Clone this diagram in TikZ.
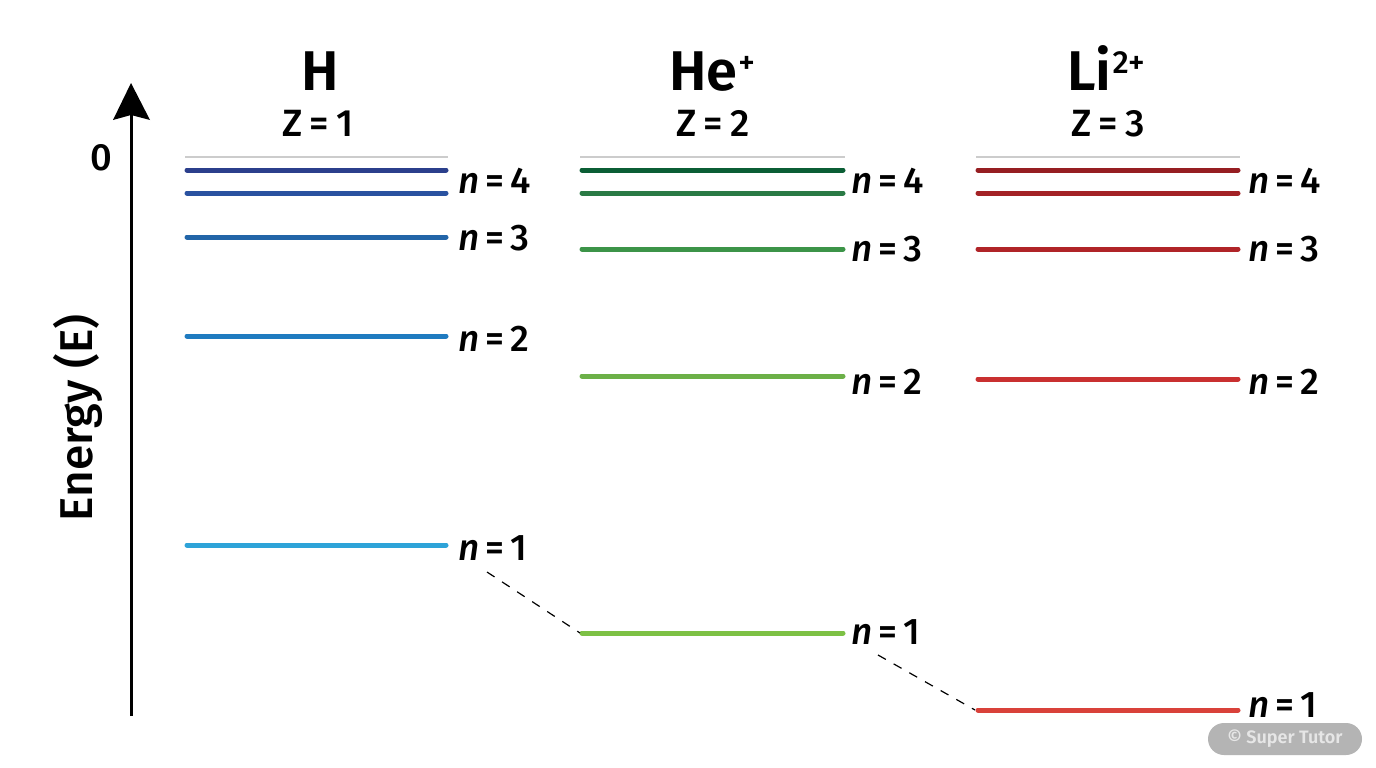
\documentclass[tikz,border=0pt]{standalone}
\usepackage{fontspec}
\setmainfont{Fira Sans Medium}[BoldFont={Fira Sans SemiBold}]
\usetikzlibrary{arrows.meta}
\definecolor{hA}{HTML}{2B3F8C}
\definecolor{hB}{HTML}{2A52A0}
\definecolor{hC}{HTML}{2265A8}
\definecolor{hD}{HTML}{1F7BC0}
\definecolor{hE}{HTML}{2EA3D8}
\definecolor{gA}{HTML}{0B5E35}
\definecolor{gB}{HTML}{2A7A45}
\definecolor{gC}{HTML}{3C9448}
\definecolor{gD}{HTML}{6CB048}
\definecolor{gE}{HTML}{7DC145}
\definecolor{rA}{HTML}{961E22}
\definecolor{rB}{HTML}{A32226}
\definecolor{rC}{HTML}{B02428}
\definecolor{rD}{HTML}{C93030}
\definecolor{rE}{HTML}{D9413A}
\definecolor{zeroline}{HTML}{CCCCCC}
\definecolor{wmfill}{HTML}{B4B4B4}
\definecolor{wmtext}{HTML}{E6E6E6}
\tikzset{
  level/.style={line width=5pt, line cap=round},
  zerolvl/.style={draw=zeroline, line width=1.5pt},
  nlabel/.style={anchor=west, inner sep=0pt, font=\fontsize{37}{42}\selectfont},
  title/.style={inner sep=0pt, font=\bfseries\fontsize{56}{60}\selectfont},
  zlabel/.style={inner sep=0pt, font=\fontsize{38}{42}\selectfont},
  link/.style={line width=1.2pt, dash pattern=on 9pt off 9pt}
}
\newcommand{\nlev}[1]{\textit{n}\hspace{6pt}=\hspace{6pt}#1}
\newcommand{\zlev}[1]{Z\hspace{7pt}=\hspace{7pt}#1}
\newcommand{\chg}[1]{\hspace{1pt}\raisebox{17pt}{\fontsize{32}{34}\selectfont\mdseries #1}}
\begin{document}
\begin{tikzpicture}[x=1pt,y=-1pt]
\useasboundingbox[fill=white] (0,0) rectangle (1376,768);
% axis
\draw[line width=3pt] (131,716) -- (131,112);
\fill (113,120) -- (131,83) -- (150,120) -- (131,115) -- cycle;
\node[inner sep=0pt, font=\fontsize{38}{42}\selectfont] (zero) at (101,158) {0};
\node[inner sep=0pt, rotate=90, font=\fontsize{46}{50}\selectfont] (energy) at (78,418) {Energy (E)};
% titles
\node[title, anchor=base] (tH) at (320,90) {H};
\node[title, anchor=base] (tHe) at (712,90) {He\chg{+}};
\node[title, anchor=base] (tLi) at (1106,90) {Li\chg{2+}};
\node[zlabel, anchor=base] (zH) at (318,136) {\zlev{1}};
\node[zlabel, anchor=base] (zHe) at (713,136) {\zlev{2}};
\node[zlabel, anchor=base] (zLi) at (1108,136) {\zlev{3}};
% zero lines
\draw[zerolvl] (185,157) -- (448,157);
\draw[zerolvl] (580,157) -- (845,157);
\draw[zerolvl] (976,157) -- (1240,157);
% H levels
\draw[level, hA] (187,170) -- (446,170);
\draw[level, hB] (187,193) -- (446,193);
\draw[level, hC] (187,237) -- (446,237);
\draw[level, hD] (187,336) -- (446,336);
\draw[level, hE] (187,545) -- (446,545);
% He levels
\draw[level, gA] (582,170) -- (843,170);
\draw[level, gB] (582,193) -- (843,193);
\draw[level, gC] (582,249) -- (843,249);
\draw[level, gD] (582,376) -- (843,376);
\draw[level, gE] (582,633) -- (843,633);
% Li levels
\draw[level, rA] (978,170) -- (1238,170);
\draw[level, rB] (978,193) -- (1238,193);
\draw[level, rC] (978,249) -- (1238,249);
\draw[level, rD] (978,379) -- (1238,379);
\draw[level, rE] (978,710) -- (1238,710);
% labels
\node[nlabel] (lH4) at (458,181) {\nlev{4}};
\node[nlabel] (lH3) at (458,238) {\nlev{3}};
\node[nlabel] (lH2) at (458,339) {\nlev{2}};
\node[nlabel] (lH1) at (458,548) {\nlev{1}};
\node[nlabel] (lHe4) at (851,181) {\nlev{4}};
\node[nlabel] (lHe3) at (851,249) {\nlev{3}};
\node[nlabel] (lHe2) at (851,382) {\nlev{2}};
\node[nlabel] (lHe1) at (851,632) {\nlev{1}};
\node[nlabel] (lLi4) at (1248,181) {\nlev{4}};
\node[nlabel] (lLi3) at (1248,249) {\nlev{3}};
\node[nlabel] (lLi2) at (1248,382) {\nlev{2}};
\node[nlabel] (lLi1) at (1248,705) {\nlev{1}};
% dashed connectors
\coordinate (d1a) at (487,572);
\coordinate (d1b) at (580,633);
\coordinate (d2a) at (878,655);
\coordinate (d2b) at (975,710);
\draw[link] (d1a) -- (d1b);
\draw[link] (d2a) -- (d2b);
% watermark
\node[fill=wmfill, rounded corners=16pt, minimum width=154pt, minimum height=32pt, inner sep=0pt,
      text=wmtext, font=\bfseries\fontsize{18}{20}\selectfont] (wm) at (1285,739) {© Super Tutor};
\end{tikzpicture}
\end{document}
